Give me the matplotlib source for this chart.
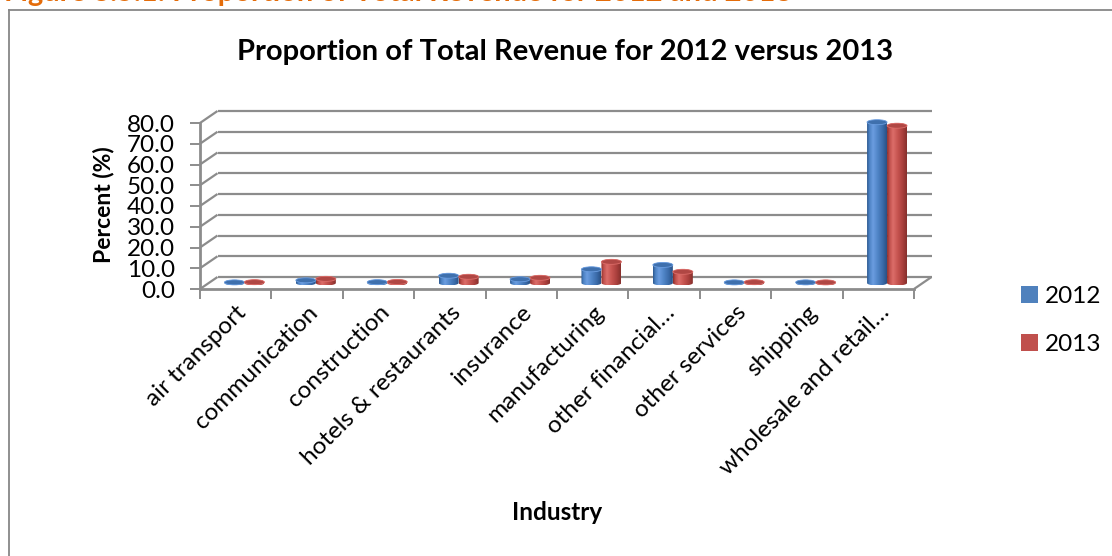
import numpy as np
import matplotlib
matplotlib.use('Agg')
import matplotlib.pyplot as plt
from matplotlib.patches import PathPatch, Ellipse, Patch
from matplotlib.path import Path

plt.rcParams['font.family'] = ['Lato', 'DejaVu Sans']

# === Data ===
industries = ["air transport", "communication", "construction", "hotels & restaurants",
              "insurance", "manufacturing", "other financial\u2026", "other services",
              "shipping", "wholesale and retail\u2026"]
share_2012 = [0.3, 1.3, 0.4, 3.5, 1.8, 6.6, 8.7, 0.3, 0.3, 77.5]
share_2013 = [0.4, 2.0, 0.5, 3.0, 2.5, 10.2, 5.4, 0.4, 0.3, 75.8]
years = ["2012", "2013"]
y_ticks = [0, 10, 20, 30, 40, 50, 60, 70, 80]

# === Layout (pixels at dpi 100) ===
W, H = 1112, 556
DPI = 100
PLOT_L, PLOT_R = 200, 914      # front edge of floor
PLOT_T, PLOT_B = 123, 289      # front axis 80 -> 0
DEPTH_X, DEPTH_Y = 17.5, 12.0  # oblique offset of back wall in px

fig = plt.figure(figsize=(W / DPI, H / DPI), dpi=DPI)
ax = fig.add_axes([PLOT_L / W, 1 - PLOT_B / H, (PLOT_R - PLOT_L) / W, (PLOT_B - PLOT_T) / H])
ax.set_xlim(0, len(industries))
ax.set_ylim(0, 80)
ax.patch.set_alpha(0)

# depth offset in data units
px_x = (PLOT_R - PLOT_L) / len(industries)
px_y = (PLOT_B - PLOT_T) / 80.0
DX = DEPTH_X / px_x
DY = DEPTH_Y / px_y

grid_kw = dict(color='#8c8c8c', lw=1.6, solid_capstyle='butt', clip_on=False, zorder=1)

# back wall gridlines and side diagonals
n = len(industries)
for t in y_ticks:
    ax.plot([0, DX], [t, t + DY], **grid_kw)
    ax.plot([DX, n + DX], [t + DY, t + DY], **grid_kw)
# right edge of floor
ax.plot([n, n + DX], [0, DY], **grid_kw)

# === Cylinders ===
BW = 0.28                 # bar width in data units
EH = 5.0 / px_y           # ellipse height in data units

blue_stops = ['#2c5890', '#4d82c4', '#6b9de0', '#4f84c6', '#3a6aa8', '#2a5184']
red_stops = ['#8a2c2a', '#bf4f4b', '#dc6d69', '#c5534f', '#a83f3c', '#86302d']
top_colors = ['#3f70ad', '#b04744']
pos_stops = [0.0, 0.12, 0.3, 0.55, 0.8, 1.0]


def hex_rgb(c):
    return [int(c[i:i + 2], 16) / 255 for i in (1, 3, 5)]


def gradient(stops):
    xs = np.linspace(0, 1, 64)
    rgb = np.array([hex_rgb(c) for c in stops])
    row = np.stack([np.interp(xs, pos_stops, rgb[:, k]) for k in range(3)], axis=-1)
    return row[np.newaxis, :, :]


def cylinder(xc, value, stops, top_color):
    base = DY / 2
    top = base + value
    a = np.linspace(np.pi, 2 * np.pi, 40)
    b = np.linspace(0, np.pi, 40)
    xs = np.concatenate([xc + BW / 2 * np.cos(a), xc + BW / 2 * np.cos(b)])
    ys = np.concatenate([base + EH / 2 * np.sin(a), top + EH / 2 * np.sin(b)])
    verts = np.column_stack([xs, ys])
    outline = PathPatch(Path(np.vstack([verts, verts[:1]]), closed=True),
                        facecolor='none', edgecolor='none', transform=ax.transData)
    ax.add_patch(outline)
    outline.set_clip_on(False)
    im = ax.imshow(gradient(stops), extent=[xc - BW / 2, xc + BW / 2, base - EH / 2, top + EH / 2],
                   aspect='auto', interpolation='bilinear', zorder=3, origin='lower')
    im.set_clip_path(outline)
    im.set_clip_box(None)
    cap = Ellipse((xc, top), BW, EH, facecolor=top_color, edgecolor=stops[2],
                  lw=0.6, zorder=4, clip_on=False)
    ax.add_patch(cap)


for i in range(n):
    for s, (vals, stops) in enumerate([(share_2012, blue_stops), (share_2013, red_stops)]):
        xc = i + 0.5 + (s - 0.5) * BW + DX / 2
        cylinder(xc, vals[i], stops, top_colors[s])

ax.set_xlim(0, n)
ax.set_ylim(0, 80)

# === Axes ===
for side in ['top', 'right']:
    ax.spines[side].set_visible(False)
for side in ['left', 'bottom']:
    ax.spines[side].set_color('#8c8c8c')
    ax.spines[side].set_linewidth(2.0)
    ax.spines[side].set_zorder(2)

ax.set_yticks(y_ticks)
ax.set_yticklabels([f"{t:.1f}" for t in y_ticks])
ax.tick_params(axis='y', length=7, width=1.4, color='#8c8c8c', pad=11, labelsize=17.5)

ax.set_xticks(np.arange(n + 1))
ax.set_xticklabels([])
ax.set_xticks(np.arange(n) + 0.5, minor=True)
ax.set_xticklabels(industries, minor=True, rotation=45, ha='right', rotation_mode='anchor',
                   fontsize=17.5)
ax.tick_params(axis='x', which='major', length=7, width=1.4, color='#8c8c8c')
ax.tick_params(axis='x', which='minor', length=0, pad=9)

fig.text(104 / W, 1 - 205 / H, "Percent (%)", rotation=90, ha='center', va='center',
         fontsize=16.5, fontweight='bold')
fig.text(557 / W, 1 - 513 / H, "Industry", ha='center', va='center', fontsize=17.5,
         fontweight='bold')
fig.text(565 / W, 1 - 52 / H, "Proportion of Total Revenue for 2012 versus 2013",
         ha='center', va='center', fontsize=21, fontweight='bold')

# heading above the chart frame
fig.text(4 / W, 1 - 1 / H, "Figure 3.5.1: Proportion of Total Revenue for 2012 and 2013",
         ha='left', va='baseline', fontsize=21, fontweight='bold', color='#e46c0a')

# chart frame
fig.add_artist(plt.Line2D([9 / W, 9 / W], [0, 1 - 10 / H], color='#878787', lw=1.3))
fig.add_artist(plt.Line2D([9 / W, 1], [1 - 10 / H, 1 - 10 / H], color='#878787', lw=1.3))

# legend
handles = [Patch(facecolor='#4f81bd'), Patch(facecolor='#c0504d')]
fig.legend(handles, years, loc='upper left', bbox_to_anchor=(1021 / W, 1 - 286 / H),
           frameon=False, fontsize=17.5, handlelength=0.7, handleheight=0.7,
           handletextpad=0.3, labelspacing=1.1, borderpad=0, borderaxespad=0)

fig.savefig('out.png', dpi=DPI)
